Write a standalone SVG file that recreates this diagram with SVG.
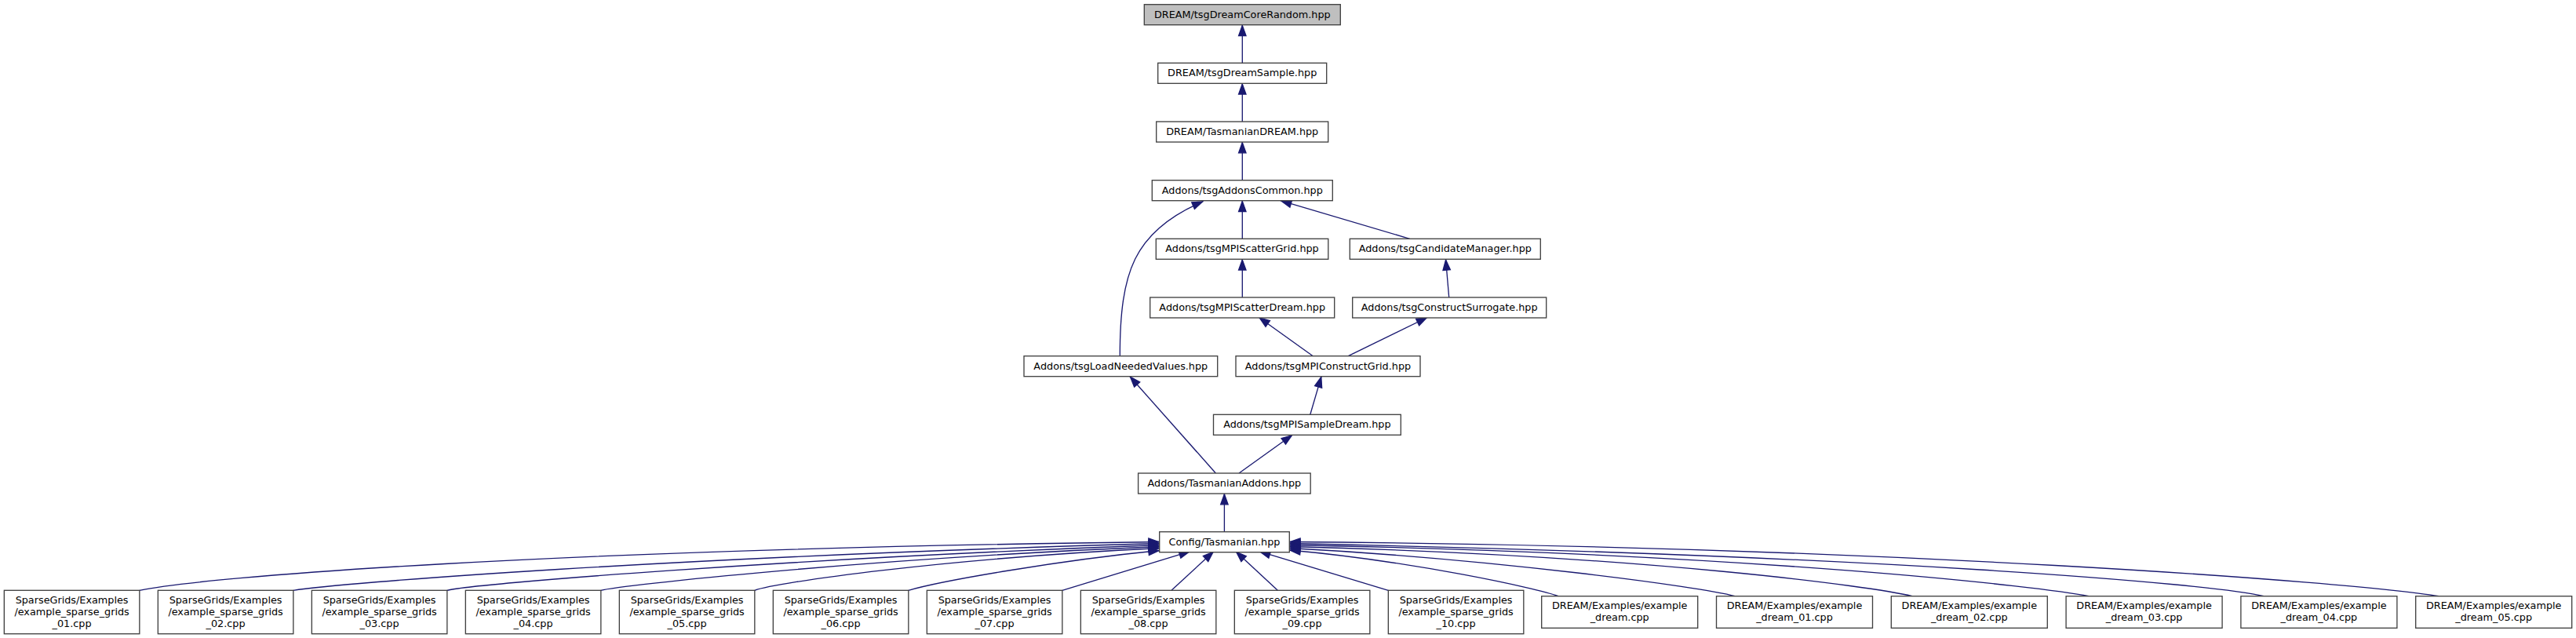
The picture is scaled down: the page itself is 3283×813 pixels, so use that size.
<svg xmlns="http://www.w3.org/2000/svg" width="3283" height="813" viewBox="0 0 3283 813">
<style>
.node rect { fill:#ffffff; stroke:#404040; stroke-width:1.33; }
.root rect { fill:#bfbfbf; }
text { font-family:"DejaVu Sans","Liberation Sans",sans-serif; font-size:12.8px; text-anchor:middle; fill:#000000; }
.edge { fill:none; stroke:#191970; stroke-width:1.33; marker-end:url(#ah); }
</style>
<defs>
<marker id="ah" viewBox="-15 -6 16 12" refX="0" refY="0" markerWidth="16" markerHeight="12" markerUnits="userSpaceOnUse" orient="auto" overflow="visible">
<path d="M-0.8,0 L-13.8,-4.7 L-13.8,4.7 Z" fill="#191970" stroke="#191970" stroke-width="1.33"/>
</marker>
</defs>
<rect x="0" y="0" width="3283" height="813" fill="#ffffff"/>
<g id="connectors">
<path class="edge" d="M1583.3,80.3 L1583.3,31.7"/>
<path class="edge" d="M1583.3,155 L1583.3,106.3"/>
<path class="edge" d="M1583.3,229.7 L1583.3,181"/>
<path class="edge" d="M1583.3,304.3 L1583.3,255.7"/>
<path class="edge" d="M1583.3,379 L1583.3,330.3"/>
<path class="edge" d="M1796.7,304.3 L1632,255.7"/>
<path class="edge" d="M1427.3,453.7 C1427.3,400 1432,360 1446.7,330 S1490,275 1533.3,256.7"/>
<path class="edge" d="M1846.7,379 L1842.5,330.3"/>
<path class="edge" d="M1673.3,453.7 L1604.5,404.5"/>
<path class="edge" d="M1718.3,453.7 L1819,404.5"/>
<path class="edge" d="M1669.8,528.3 L1684,479.7"/>
<path class="edge" d="M1549.4,603 L1440,479.7"/>
<path class="edge" d="M1579,603 L1647,554.3"/>
<path class="edge" d="M1560.4,677.7 L1560.4,629"/>
<path class="edge" d="M177.8,752.3 C260,735 700,700 1477.7,690.5"/>
<path class="edge" d="M373.8,752.3 C430,743 850,710 1477.7,692.5"/>
<path class="edge" d="M569.8,752.3 C600,744 1000,712 1477.7,694.5"/>
<path class="edge" d="M765.8,752.3 C790,746 1100,712 1477.7,696.5"/>
<path class="edge" d="M961.8,752.3 C990,742 1200,712 1477.7,698.5"/>
<path class="edge" d="M1157.8,752.3 C1200,740 1350,714 1477.7,701.5"/>
<path class="edge" d="M1353.8,752.3 L1516.7,702.7"/>
<path class="edge" d="M1493,752.3 L1546.7,702.7"/>
<path class="edge" d="M1628.3,752.3 L1575,702.7"/>
<path class="edge" d="M1769.3,752.3 L1605,702.7"/>
<path class="edge" d="M1986,759.7 C1960,750 1800,715 1643.3,701"/>
<path class="edge" d="M2211,759.7 C2170,748 1900,712 1643.3,698.5"/>
<path class="edge" d="M2437,759.7 C2390,748 2100,708 1643.3,696.5"/>
<path class="edge" d="M2662,759.7 C2610,749 2250,706 1643.3,694.5"/>
<path class="edge" d="M2885,759.7 C2820,744 2400,708 1643.3,692.5"/>
<path class="edge" d="M3108,759.7 C3000,742 2400,696 1643.3,690.5"/>
</g>
<g id="n0" class="node root"><rect x="1458.3" y="5.7" width="250" height="26"/><text x="1583.3" y="22.5">DREAM/tsgDreamCoreRandom.hpp</text></g>
<g id="n1" class="node"><rect x="1475.7" y="80.3" width="215" height="26"/><text x="1583.2" y="97.1">DREAM/tsgDreamSample.hpp</text></g>
<g id="n2" class="node"><rect x="1473.7" y="155" width="219" height="26"/><text x="1583.2" y="171.8">DREAM/TasmanianDREAM.hpp</text></g>
<g id="n3" class="node"><rect x="1468.3" y="229.7" width="230" height="26"/><text x="1583.3" y="246.5">Addons/tsgAddonsCommon.hpp</text></g>
<g id="n4" class="node"><rect x="1473.3" y="304.3" width="219.5" height="26"/><text x="1583" y="321.1">Addons/tsgMPIScatterGrid.hpp</text></g>
<g id="n5" class="node"><rect x="1720.3" y="304.3" width="243" height="26"/><text x="1841.8" y="321.1">Addons/tsgCandidateManager.hpp</text></g>
<g id="n6" class="node"><rect x="1465.7" y="379" width="235" height="26"/><text x="1583.2" y="395.8">Addons/tsgMPIScatterDream.hpp</text></g>
<g id="n7" class="node"><rect x="1723.7" y="379" width="247" height="26"/><text x="1847.2" y="395.8">Addons/tsgConstructSurrogate.hpp</text></g>
<g id="n8" class="node"><rect x="1305" y="453.7" width="246.7" height="26"/><text x="1428.3" y="470.5">Addons/tsgLoadNeededValues.hpp</text></g>
<g id="n9" class="node"><rect x="1575" y="453.7" width="235" height="26"/><text x="1692.5" y="470.5">Addons/tsgMPIConstructGrid.hpp</text></g>
<g id="n10" class="node"><rect x="1546.5" y="528.3" width="238.8" height="26"/><text x="1665.9" y="545.1">Addons/tsgMPISampleDream.hpp</text></g>
<g id="n11" class="node"><rect x="1450.6" y="603" width="219.6" height="26"/><text x="1560.4" y="619.8">Addons/TasmanianAddons.hpp</text></g>
<g id="n12" class="node"><rect x="1477.7" y="677.7" width="165.6" height="26"/><text x="1560.5" y="694.5">Config/Tasmanian.hpp</text></g>
<g id="n13" class="node"><rect x="5.33" y="752.3" width="172.5" height="55.4"/><text x="91.6" y="769">SparseGrids/Examples</text><text x="91.6" y="783.8">/example_sparse_grids</text><text x="91.6" y="798.6">_01.cpp</text></g>
<g id="n14" class="node"><rect x="201.33" y="752.3" width="172.5" height="55.4"/><text x="287.6" y="769">SparseGrids/Examples</text><text x="287.6" y="783.8">/example_sparse_grids</text><text x="287.6" y="798.6">_02.cpp</text></g>
<g id="n15" class="node"><rect x="397.33" y="752.3" width="172.5" height="55.4"/><text x="483.6" y="769">SparseGrids/Examples</text><text x="483.6" y="783.8">/example_sparse_grids</text><text x="483.6" y="798.6">_03.cpp</text></g>
<g id="n16" class="node"><rect x="593.33" y="752.3" width="172.5" height="55.4"/><text x="679.6" y="769">SparseGrids/Examples</text><text x="679.6" y="783.8">/example_sparse_grids</text><text x="679.6" y="798.6">_04.cpp</text></g>
<g id="n17" class="node"><rect x="789.33" y="752.3" width="172.5" height="55.4"/><text x="875.6" y="769">SparseGrids/Examples</text><text x="875.6" y="783.8">/example_sparse_grids</text><text x="875.6" y="798.6">_05.cpp</text></g>
<g id="n18" class="node"><rect x="985.33" y="752.3" width="172.5" height="55.4"/><text x="1071.6" y="769">SparseGrids/Examples</text><text x="1071.6" y="783.8">/example_sparse_grids</text><text x="1071.6" y="798.6">_06.cpp</text></g>
<g id="n19" class="node"><rect x="1181.33" y="752.3" width="172.5" height="55.4"/><text x="1267.6" y="769">SparseGrids/Examples</text><text x="1267.6" y="783.8">/example_sparse_grids</text><text x="1267.6" y="798.6">_07.cpp</text></g>
<g id="n20" class="node"><rect x="1377.33" y="752.3" width="172.5" height="55.4"/><text x="1463.6" y="769">SparseGrids/Examples</text><text x="1463.6" y="783.8">/example_sparse_grids</text><text x="1463.6" y="798.6">_08.cpp</text></g>
<g id="n21" class="node"><rect x="1573.33" y="752.3" width="172.5" height="55.4"/><text x="1659.6" y="769">SparseGrids/Examples</text><text x="1659.6" y="783.8">/example_sparse_grids</text><text x="1659.6" y="798.6">_09.cpp</text></g>
<g id="n22" class="node"><rect x="1769.33" y="752.3" width="172.5" height="55.4"/><text x="1855.6" y="769">SparseGrids/Examples</text><text x="1855.6" y="783.8">/example_sparse_grids</text><text x="1855.6" y="798.6">_10.cpp</text></g>
<g id="n23" class="node"><rect x="1964.7" y="759.7" width="199" height="40.6"/><text x="2064.2" y="776.4">DREAM/Examples/example</text><text x="2064.2" y="791.2">_dream.cpp</text></g>
<g id="n24" class="node"><rect x="2187.5" y="759.7" width="199" height="40.6"/><text x="2287" y="776.4">DREAM/Examples/example</text><text x="2287" y="791.2">_dream_01.cpp</text></g>
<g id="n25" class="node"><rect x="2410.3" y="759.7" width="199" height="40.6"/><text x="2509.8" y="776.4">DREAM/Examples/example</text><text x="2509.8" y="791.2">_dream_02.cpp</text></g>
<g id="n26" class="node"><rect x="2633.1" y="759.7" width="199" height="40.6"/><text x="2732.6" y="776.4">DREAM/Examples/example</text><text x="2732.6" y="791.2">_dream_03.cpp</text></g>
<g id="n27" class="node"><rect x="2855.9" y="759.7" width="199" height="40.6"/><text x="2955.4" y="776.4">DREAM/Examples/example</text><text x="2955.4" y="791.2">_dream_04.cpp</text></g>
<g id="n28" class="node"><rect x="3078.7" y="759.7" width="199" height="40.6"/><text x="3178.2" y="776.4">DREAM/Examples/example</text><text x="3178.2" y="791.2">_dream_05.cpp</text></g>
</svg>
